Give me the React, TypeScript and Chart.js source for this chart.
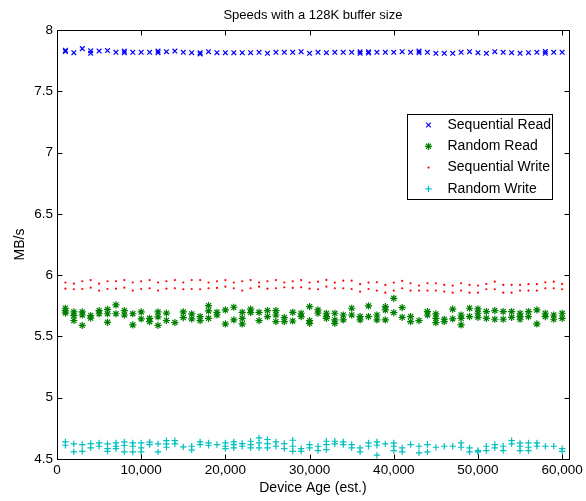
import React, { useEffect, useRef } from 'react';
import { Chart, registerables } from 'chart.js';
import { drawPoint } from 'chart.js/helpers';

Chart.register(...registerables);

const titleText = 'Speeds with a 128K buffer size';
const xAxisLabel = 'Device Age (est.)';
const yAxisLabel = 'MB/s';

const deviceAges = [
  1000, 2000, 3000, 4000, 5000, 6000, 7000, 8000, 9000, 10000,
  11000, 12000, 13000, 14000, 15000, 16000, 17000, 18000, 19000, 20000,
  21000, 22000, 23000, 24000, 25000, 26000, 27000, 28000, 29000, 30000,
  31000, 32000, 33000, 34000, 35000, 36000, 37000, 38000, 39000, 40000,
  41000, 42000, 43000, 44000, 45000, 46000, 47000, 48000, 49000, 50000,
  51000, 52000, 53000, 54000, 55000, 56000, 57000, 58000, 59000, 60000,
];

const sequentialRead: number[][] = [
  [7.835, 7.825], [7.815], [7.848], [7.83, 7.81], [7.828], [7.832], [7.818], [7.828, 7.815], [7.818], [7.818],
  [7.818], [7.828, 7.815], [7.823], [7.828], [7.818], [7.815], [7.815, 7.805], [7.823], [7.815], [7.815],
  [7.815], [7.815], [7.815], [7.818], [7.81], [7.818], [7.818], [7.818], [7.823], [7.81],
  [7.818], [7.815], [7.818], [7.818], [7.818], [7.822, 7.81], [7.822, 7.812], [7.818], [7.818], [7.818],
  [7.823], [7.818], [7.828, 7.815], [7.818], [7.81], [7.81], [7.81], [7.818], [7.823], [7.815],
  [7.81], [7.823], [7.818], [7.815], [7.81], [7.815], [7.818], [7.825, 7.81], [7.818], [7.818],
];

const randomRead: number[][] = [
  [5.73, 5.71, 5.69], [5.70, 5.67, 5.63], [5.70, 5.675, 5.59], [5.67, 5.65], [5.71, 5.685],
  [5.72, 5.685, 5.615], [5.757, 5.685], [5.71, 5.675], [5.685, 5.594], [5.70, 5.643],
  [5.648, 5.62], [5.70, 5.66, 5.59], [5.69, 5.63], [5.613], [5.70, 5.654],
  [5.684, 5.643], [5.662, 5.629], [5.751, 5.708, 5.648], [5.697, 5.675], [5.716, 5.602],
  [5.738, 5.635], [5.697, 5.648, 5.602], [5.722, 5.694], [5.697, 5.629], [5.711, 5.662],
  [5.711, 5.675, 5.621], [5.654, 5.621], [5.697, 5.626], [5.689, 5.662], [5.743, 5.629, 5.607],
  [5.716, 5.689], [5.689, 5.662, 5.648], [5.689, 5.635, 5.607], [5.675, 5.635], [5.73, 5.675],
  [5.662, 5.635], [5.749, 5.662], [5.675, 5.635], [5.743, 5.716, 5.635], [5.811, 5.694],
  [5.735, 5.656], [5.662, 5.621], [5.629], [5.703, 5.675], [5.684, 5.648, 5.613],
  [5.64, 5.621], [5.722, 5.643], [5.675, 5.648, 5.594], [5.73, 5.662], [5.724, 5.689, 5.656],
  [5.703, 5.648], [5.711, 5.64], [5.703, 5.64], [5.703, 5.656], [5.689, 5.662, 5.64],
  [5.703, 5.662], [5.716, 5.602], [5.689, 5.662], [5.675, 5.64], [5.689, 5.648],
];

const sequentialWrite: number[][] = [
  [5.94, 5.89], [5.93, 5.885], [5.95, 5.887], [5.96, 5.898], [5.93, 5.874],
  [5.95, 5.887], [5.95, 5.89], [5.96, 5.898], [5.94, 5.874], [5.95, 5.887],
  [5.96, 5.893], [5.94, 5.874], [5.95, 5.89], [5.96, 5.893], [5.94, 5.885],
  [5.96, 5.887], [5.96, 5.885], [5.94, 5.893], [5.95, 5.896], [5.96, 5.906],
  [5.94, 5.893], [5.95, 5.874], [5.96, 5.893], [5.94, 5.906], [5.95, 5.89],
  [5.96, 5.893], [5.94, 5.901], [5.95, 5.896], [5.96, 5.901], [5.94, 5.89],
  [5.947, 5.885], [5.961, 5.906], [5.939, 5.893], [5.955, 5.893], [5.955, 5.887],
  [5.926, 5.866], [5.939, 5.887], [5.942, 5.874], [5.92, 5.857], [5.939, 5.874],
  [5.953, 5.893], [5.934, 5.874], [5.915, 5.874], [5.934, 5.874], [5.934, 5.874],
  [5.92, 5.866], [5.915, 5.857], [5.934, 5.874], [5.92, 5.857], [5.915, 5.857],
  [5.928, 5.885], [5.947, 5.885], [5.92, 5.857], [5.92, 5.857], [5.92, 5.874],
  [5.926, 5.874], [5.926, 5.874], [5.942, 5.893], [5.947, 5.893], [5.928, 5.885],
];

const randomWrite: number[][] = [
  [4.64, 4.612], [4.623, 4.558], [4.618, 4.563], [4.626, 4.591], [4.631, 4.604],
  [4.623, 4.585, 4.563], [4.631, 4.604, 4.585], [4.64, 4.61, 4.558], [4.631, 4.604, 4.558], [4.631, 4.591, 4.558],
  [4.637, 4.618], [4.623, 4.558], [4.65, 4.623, 4.596], [4.65, 4.623], [4.599],
  [4.604, 4.572], [4.64, 4.618], [4.631, 4.612], [4.618], [4.631, 4.604, 4.585],
  [4.64, 4.618, 4.591], [4.626, 4.604], [4.645, 4.618, 4.591], [4.672, 4.631, 4.591], [4.659, 4.626, 4.591],
  [4.64, 4.604], [4.626, 4.585], [4.653, 4.604, 4.563], [4.585, 4.563], [4.618, 4.591],
  [4.604, 4.569], [4.645, 4.618, 4.577], [4.645, 4.623], [4.64, 4.618], [4.618, 4.591],
  [4.591, 4.558], [4.631, 4.604], [4.64, 4.612, 4.531], [4.623], [4.631, 4.604, 4.569],
  [4.591, 4.558], [4.618], [4.604, 4.55], [4.618, 4.558], [4.596],
  [4.604], [4.604], [4.631, 4.596], [4.591, 4.558], [4.569, 4.558],
  [4.604, 4.569], [4.618, 4.591], [4.604, 4.569], [4.65, 4.623], [4.631, 4.604, 4.569],
  [4.631, 4.596, 4.569], [4.631, 4.604], [4.604], [4.604], [4.585, 4.563],
];

const seriesNames = ['Sequential Read', 'Random Read', 'Sequential Write', 'Random Write'];

const xTickValues = [0, 10000, 20000, 30000, 40000, 50000, 60000];
const xTickLabels = ['0', '10,000', '20,000', '30,000', '40,000', '50,000', '60,000'];
const yTickValues = [4.5, 5, 5.5, 6, 6.5, 7, 7.5, 8];
const yTickLabels = ['4.5', '5', '5.5', '6', '6.5', '7', '7.5', '8'];

const FONT = '"Liberation Sans", Arial, Helvetica, sans-serif';

const toPoints = (vals: number[][]) =>
  deviceAges.flatMap((x, i) => vals[i].map((y) => ({ x, y })));

const styles = [
  { color: '#0000ff', pointStyle: 'crossRot', radius: 3.3, borderWidth: 1.2 },
  { color: '#008000', pointStyle: 'star', radius: 3.6, borderWidth: 1.2 },
  { color: '#ff0000', pointStyle: 'circle', radius: 1.1, borderWidth: 0 },
  { color: '#00bfbf', pointStyle: 'cross', radius: 3.2, borderWidth: 1.2 },
];

const framePlugin = {
  id: 'matlabFrame',
  afterDraw(chart: any) {
    const { ctx, chartArea: a, scales } = chart;
    ctx.save();
    ctx.strokeStyle = '#000';
    ctx.lineWidth = 1;
    const L = Math.round(a.left) + 0.5;
    const R = Math.round(a.right) + 0.5;
    const T = Math.round(a.top) + 0.5;
    const B = Math.round(a.bottom) + 0.5;
    ctx.strokeRect(L, T, R - L, B - T);
    const tl = 5;
    ctx.beginPath();
    xTickValues.forEach((v) => {
      const px = Math.round(scales.x.getPixelForValue(v)) + 0.5;
      ctx.moveTo(px, B);
      ctx.lineTo(px, B - tl);
      ctx.moveTo(px, T);
      ctx.lineTo(px, T + tl);
    });
    yTickValues.forEach((v) => {
      const py = Math.round(scales.y.getPixelForValue(v)) + 0.5;
      ctx.moveTo(L, py);
      ctx.lineTo(L + tl, py);
      ctx.moveTo(R, py);
      ctx.lineTo(R - tl, py);
    });
    ctx.stroke();

    // title and axis labels
    ctx.fillStyle = '#000';
    ctx.textAlign = 'center';
    ctx.textBaseline = 'middle';
    const cx = (a.left + a.right) / 2;
    ctx.font = `13px ${FONT}`;
    ctx.fillText(titleText, cx, 15);
    ctx.font = `14px ${FONT}`;
    ctx.fillText(xAxisLabel, cx, 488);
    ctx.save();
    ctx.translate(20, (a.top + a.bottom) / 2);
    ctx.rotate(-Math.PI / 2);
    ctx.fillText(yAxisLabel, 0, 0);
    ctx.restore();

    // legend
    const bw = 145;
    const bh = 85;
    const bx = Math.round(a.right - 17 - bw) + 0.5;
    const by = Math.round(a.top + 84) + 0.5;
    ctx.fillStyle = '#fff';
    ctx.fillRect(bx, by, bw, bh);
    ctx.strokeStyle = '#000';
    ctx.lineWidth = 1;
    ctx.strokeRect(bx, by, bw, bh);
    ctx.font = `14px ${FONT}`;
    ctx.textAlign = 'left';
    seriesNames.forEach((name, i) => {
      const ey = by + 10.5 + i * 21.3;
      const s = styles[i];
      ctx.strokeStyle = s.color;
      ctx.fillStyle = s.color;
      ctx.lineWidth = s.borderWidth || 1;
      drawPoint(ctx, { pointStyle: s.pointStyle as any, radius: s.radius, rotation: 0, borderWidth: s.borderWidth }, bx + 21, ey);
      ctx.fillStyle = '#000';
      ctx.fillText(name, bx + 40, ey);
    });
    ctx.restore();
  },
};

export default function App() {
  const canvasRef = useRef<HTMLCanvasElement | null>(null);

  useEffect(() => {
    document.body.style.margin = '0';
    const canvas = canvasRef.current;
    if (!canvas) return;
    const allSeries = [sequentialRead, randomRead, sequentialWrite, randomWrite];
    const chart = new Chart(canvas, {
      type: 'scatter',
      data: {
        datasets: allSeries.map((vals, i) => ({
          label: seriesNames[i],
          data: toPoints(vals),
          pointStyle: styles[i].pointStyle as any,
          pointRadius: styles[i].radius,
          pointBorderWidth: styles[i].borderWidth,
          pointBackgroundColor: styles[i].color,
          pointBorderColor: styles[i].color,
          showLine: false,
        })),
      },
      options: {
        animation: false,
        responsive: false,
        devicePixelRatio: 1,
        layout: { padding: { left: 0, right: 16, top: 30, bottom: 0 } },
        plugins: {
          legend: { display: false },
          title: { display: false },
          tooltip: { enabled: false },
        },
        scales: {
          x: {
            type: 'linear',
            min: 0,
            max: 60800,
            grid: { display: false, drawTicks: false },
            border: { display: false },
            afterBuildTicks: (scale: any) => {
              scale.ticks = xTickValues.map((value) => ({ value }));
            },
            afterFit: (scale: any) => {
              scale.height = 42;
            },
            ticks: {
              autoSkip: false,
              maxRotation: 0,
              padding: 3,
              color: '#000',
              font: { family: FONT, size: 13.5 },
              callback: (v: any) => {
                const i = xTickValues.indexOf(Number(v));
                return i >= 0 ? xTickLabels[i] : '';
              },
            },
          },
          y: {
            type: 'linear',
            min: 4.5,
            max: 8,
            grid: { display: false, drawTicks: false },
            border: { display: false },
            afterBuildTicks: (scale: any) => {
              scale.ticks = yTickValues.map((value) => ({ value }));
            },
            afterFit: (scale: any) => {
              scale.width = 57;
            },
            ticks: {
              autoSkip: false,
              padding: 4,
              color: '#000',
              font: { family: FONT, size: 13.5 },
              callback: (v: any) => {
                const i = yTickValues.indexOf(Number(v));
                return i >= 0 ? yTickLabels[i] : '';
              },
            },
          },
        },
      },
      plugins: [framePlugin],
    });
    return () => chart.destroy();
  }, []);

  return (
    <div style={{ position: 'absolute', left: 0, top: 0, width: 586, height: 501, background: '#fff' }}>
      <canvas ref={canvasRef} width={586} height={501} style={{ width: 586, height: 501, display: 'block' }} />
    </div>
  );
}
